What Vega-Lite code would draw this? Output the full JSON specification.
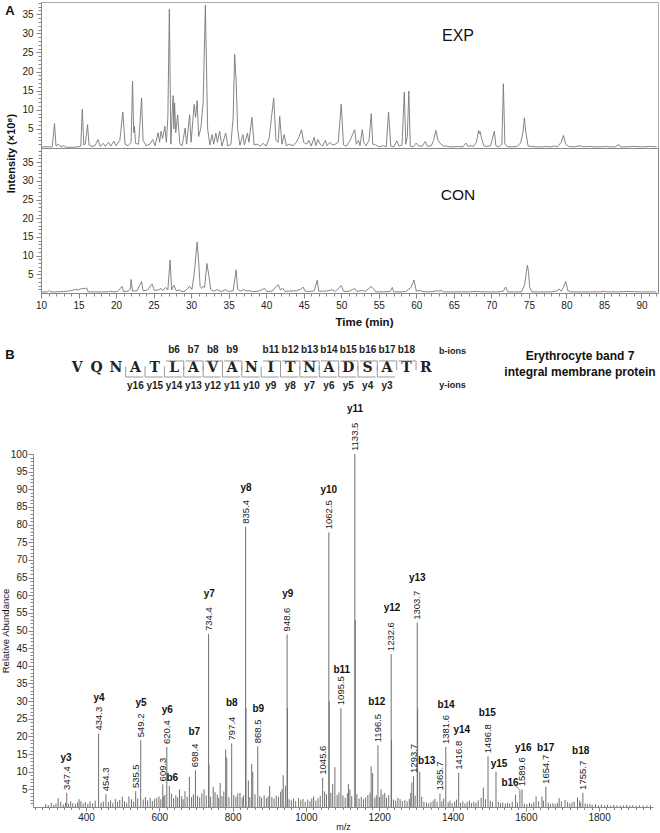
{
  "$schema": "https://vega.github.io/schema/vega-lite/v6.json",
  "padding": {"left": 0, "top": 1, "right": 0, "bottom": 0},
  "bounds": "flush",
  "spacing": 0,
  "background": "white",
  "config": {
    "font": "Liberation Sans",
    "view": {"stroke": null},
    "axis": {"labelFont": "Liberation Sans", "titleFont": "Liberation Sans", "labelColor": "#222", "titleColor": "#111", "domainColor": "#888", "tickColor": "#888", "grid": false, "labelFlush": false, "labelOverlap": false}
  },
  "datasets": {
    "exp": [
      {"t":10.0,"i":0.3},{"t":11.5,"i":0.3},{"t":11.8,"i":6.4},{"t":12.0,"i":0.5},{"t":12.3,"i":1.0},{"t":12.6,"i":0.3},{"t":13.0,"i":0.6},{"t":13.3,"i":0.2},{"t":14.0,"i":0.2},{"t":15.0,"i":0.3},{"t":15.3,"i":0.5},{"t":15.5,"i":10.1},{"t":15.7,"i":0.8},{"t":15.9,"i":1.0},{"t":16.2,"i":6.1},{"t":16.4,"i":0.8},{"t":16.8,"i":0.4},{"t":17.2,"i":0.6},{"t":17.6,"i":2.2},{"t":17.9,"i":0.4},{"t":18.3,"i":1.2},{"t":18.6,"i":0.4},{"t":19.0,"i":1.5},{"t":19.3,"i":0.5},{"t":19.7,"i":1.8},{"t":20.0,"i":0.6},{"t":20.5,"i":2.0},{"t":20.9,"i":9.4},{"t":21.2,"i":1.0},{"t":21.6,"i":0.6},{"t":22.0,"i":1.5},{"t":22.2,"i":17.5},{"t":22.35,"i":4.0},{"t":22.45,"i":5.7},{"t":22.6,"i":1.2},{"t":23.0,"i":1.0},{"t":23.4,"i":13.1},{"t":23.6,"i":2.0},{"t":24.0,"i":0.6},{"t":24.5,"i":1.0},{"t":24.9,"i":2.2},{"t":25.2,"i":0.6},{"t":25.6,"i":4.0},{"t":25.8,"i":1.5},{"t":26.0,"i":4.4},{"t":26.2,"i":2.5},{"t":26.5,"i":5.7},{"t":26.7,"i":1.5},{"t":26.9,"i":8.0},{"t":27.1,"i":36.3},{"t":27.3,"i":1.0},{"t":27.45,"i":8.0},{"t":27.6,"i":13.7},{"t":27.7,"i":5.0},{"t":27.8,"i":11.8},{"t":27.95,"i":4.0},{"t":28.2,"i":8.7},{"t":28.5,"i":1.0},{"t":28.8,"i":0.6},{"t":29.2,"i":5.2},{"t":29.4,"i":1.0},{"t":29.8,"i":8.7},{"t":30.0,"i":1.5},{"t":30.4,"i":11.4},{"t":30.6,"i":8.0},{"t":30.8,"i":12.4},{"t":31.0,"i":3.0},{"t":31.3,"i":5.2},{"t":31.6,"i":12.0},{"t":31.9,"i":37.4},{"t":32.2,"i":5.0},{"t":32.5,"i":0.8},{"t":32.8,"i":3.5},{"t":33.0,"i":1.0},{"t":33.3,"i":3.9},{"t":33.5,"i":1.5},{"t":33.8,"i":4.4},{"t":34.1,"i":0.5},{"t":34.6,"i":3.9},{"t":34.9,"i":0.5},{"t":35.3,"i":1.0},{"t":35.6,"i":7.9},{"t":35.8,"i":24.5},{"t":36.0,"i":17.5},{"t":36.2,"i":4.8},{"t":36.5,"i":0.7},{"t":36.9,"i":3.5},{"t":37.1,"i":0.8},{"t":37.5,"i":3.9},{"t":37.7,"i":1.5},{"t":38.1,"i":8.0},{"t":38.4,"i":0.8},{"t":38.8,"i":1.0},{"t":39.2,"i":0.5},{"t":39.6,"i":1.2},{"t":40.0,"i":0.5},{"t":40.4,"i":2.6},{"t":40.7,"i":7.9},{"t":41.0,"i":13.1},{"t":41.3,"i":2.0},{"t":41.6,"i":1.5},{"t":41.8,"i":8.3},{"t":42.1,"i":1.0},{"t":42.4,"i":3.5},{"t":42.7,"i":0.6},{"t":43.1,"i":1.0},{"t":43.6,"i":0.6},{"t":44.0,"i":1.5},{"t":44.4,"i":3.0},{"t":44.7,"i":4.8},{"t":45.0,"i":1.5},{"t":45.4,"i":1.0},{"t":45.7,"i":2.0},{"t":46.0,"i":0.5},{"t":46.4,"i":2.8},{"t":46.6,"i":0.6},{"t":46.9,"i":2.2},{"t":47.2,"i":1.0},{"t":47.5,"i":0.5},{"t":47.9,"i":2.0},{"t":48.1,"i":0.6},{"t":48.5,"i":1.5},{"t":48.8,"i":0.8},{"t":49.2,"i":1.0},{"t":49.6,"i":1.5},{"t":50.0,"i":11.5},{"t":50.3,"i":0.8},{"t":50.7,"i":0.5},{"t":51.0,"i":1.5},{"t":51.3,"i":2.5},{"t":51.5,"i":3.5},{"t":51.8,"i":4.8},{"t":52.0,"i":1.0},{"t":52.3,"i":2.0},{"t":52.5,"i":0.6},{"t":52.8,"i":4.8},{"t":53.0,"i":1.5},{"t":53.3,"i":0.6},{"t":53.7,"i":2.0},{"t":54.0,"i":9.0},{"t":54.2,"i":1.0},{"t":54.6,"i":0.8},{"t":55.0,"i":0.3},{"t":55.6,"i":0.6},{"t":56.0,"i":0.3},{"t":56.3,"i":9.4},{"t":56.6,"i":0.5},{"t":57.0,"i":0.3},{"t":57.4,"i":1.9},{"t":57.7,"i":0.5},{"t":58.1,"i":0.8},{"t":58.4,"i":14.6},{"t":58.6,"i":1.0},{"t":58.8,"i":3.0},{"t":59.0,"i":14.9},{"t":59.2,"i":0.5},{"t":59.6,"i":0.3},{"t":60.0,"i":1.3},{"t":60.3,"i":0.5},{"t":60.8,"i":0.5},{"t":61.2,"i":1.7},{"t":61.5,"i":0.4},{"t":62.0,"i":0.6},{"t":62.3,"i":2.0},{"t":62.6,"i":4.6},{"t":62.9,"i":2.0},{"t":63.2,"i":1.2},{"t":63.6,"i":0.5},{"t":64.0,"i":0.5},{"t":64.5,"i":0.3},{"t":65.0,"i":0.3},{"t":65.5,"i":0.4},{"t":66.2,"i":0.3},{"t":66.6,"i":1.3},{"t":66.9,"i":0.4},{"t":67.3,"i":0.6},{"t":67.6,"i":0.4},{"t":68.0,"i":1.5},{"t":68.3,"i":4.6},{"t":68.4,"i":3.8},{"t":68.5,"i":4.3},{"t":68.7,"i":2.5},{"t":69.0,"i":0.6},{"t":69.4,"i":0.4},{"t":69.9,"i":0.6},{"t":70.4,"i":4.4},{"t":70.6,"i":0.6},{"t":71.0,"i":0.3},{"t":71.4,"i":1.0},{"t":71.6,"i":16.8},{"t":71.8,"i":1.0},{"t":72.2,"i":0.3},{"t":72.8,"i":0.3},{"t":73.4,"i":0.4},{"t":73.9,"i":1.3},{"t":74.2,"i":4.0},{"t":74.4,"i":7.9},{"t":74.6,"i":4.0},{"t":74.9,"i":0.5},{"t":75.4,"i":0.4},{"t":76.0,"i":0.3},{"t":76.7,"i":0.3},{"t":77.2,"i":0.4},{"t":77.8,"i":0.3},{"t":78.4,"i":0.5},{"t":78.8,"i":0.3},{"t":79.3,"i":1.5},{"t":79.6,"i":3.3},{"t":79.9,"i":1.0},{"t":80.3,"i":0.4},{"t":81.0,"i":0.3},{"t":81.8,"i":0.6},{"t":82.3,"i":0.3},{"t":83.0,"i":0.4},{"t":83.8,"i":0.3},{"t":84.5,"i":0.3},{"t":85.2,"i":0.4},{"t":85.8,"i":0.3},{"t":86.5,"i":0.3},{"t":87.0,"i":0.9},{"t":87.2,"i":0.3},{"t":88.0,"i":0.3},{"t":89.0,"i":0.4},{"t":90.0,"i":0.3},{"t":91.2,"i":0.4},{"t":92.0,"i":0.3}
    ],
    "con": [
      {"t":10.0,"i":0.3},{"t":10.9,"i":0.3},{"t":11.1,"i":0.7},{"t":11.3,"i":0.3},{"t":12.0,"i":0.3},{"t":13.0,"i":0.4},{"t":14.0,"i":0.6},{"t":14.7,"i":1.0},{"t":15.0,"i":0.8},{"t":15.3,"i":1.1},{"t":15.7,"i":1.2},{"t":16.1,"i":1.3},{"t":16.3,"i":0.3},{"t":17.0,"i":0.3},{"t":18.0,"i":0.3},{"t":19.0,"i":0.3},{"t":19.3,"i":0.5},{"t":19.6,"i":0.3},{"t":20.2,"i":0.4},{"t":20.8,"i":1.8},{"t":21.0,"i":0.4},{"t":21.6,"i":0.5},{"t":21.9,"i":1.0},{"t":22.0,"i":3.6},{"t":22.2,"i":0.5},{"t":22.8,"i":0.6},{"t":23.4,"i":3.1},{"t":23.6,"i":0.6},{"t":24.2,"i":0.8},{"t":24.8,"i":2.4},{"t":25.1,"i":0.7},{"t":25.6,"i":0.8},{"t":26.0,"i":1.2},{"t":26.2,"i":0.6},{"t":26.6,"i":1.5},{"t":26.9,"i":0.8},{"t":27.2,"i":8.8},{"t":27.4,"i":0.8},{"t":27.7,"i":2.1},{"t":28.0,"i":0.6},{"t":28.4,"i":0.8},{"t":28.8,"i":0.4},{"t":29.2,"i":0.5},{"t":29.8,"i":1.8},{"t":30.1,"i":0.9},{"t":30.4,"i":4.9},{"t":30.8,"i":13.6},{"t":31.0,"i":8.5},{"t":31.2,"i":1.8},{"t":31.4,"i":1.2},{"t":31.6,"i":1.8},{"t":31.8,"i":1.5},{"t":32.1,"i":7.9},{"t":32.4,"i":4.2},{"t":32.6,"i":1.0},{"t":33.0,"i":0.5},{"t":33.5,"i":0.9},{"t":34.0,"i":0.4},{"t":34.6,"i":0.9},{"t":35.0,"i":0.4},{"t":35.6,"i":0.6},{"t":36.0,"i":6.2},{"t":36.2,"i":1.0},{"t":36.6,"i":0.5},{"t":37.0,"i":0.9},{"t":37.3,"i":0.6},{"t":37.8,"i":0.6},{"t":38.2,"i":0.4},{"t":39.0,"i":0.5},{"t":39.8,"i":1.2},{"t":40.1,"i":0.4},{"t":40.8,"i":0.5},{"t":41.2,"i":1.5},{"t":41.6,"i":2.2},{"t":41.9,"i":0.8},{"t":42.2,"i":1.3},{"t":42.5,"i":0.4},{"t":43.0,"i":0.5},{"t":44.0,"i":0.6},{"t":44.6,"i":1.0},{"t":44.9,"i":1.6},{"t":45.2,"i":0.5},{"t":45.8,"i":0.4},{"t":46.4,"i":0.6},{"t":46.8,"i":3.4},{"t":47.0,"i":0.5},{"t":47.6,"i":0.5},{"t":48.0,"i":0.5},{"t":48.8,"i":0.9},{"t":49.2,"i":0.4},{"t":50.0,"i":2.0},{"t":50.3,"i":0.5},{"t":51.0,"i":0.4},{"t":51.8,"i":1.2},{"t":52.1,"i":0.4},{"t":52.8,"i":0.7},{"t":53.2,"i":0.4},{"t":54.0,"i":1.8},{"t":54.3,"i":1.1},{"t":54.6,"i":0.3},{"t":55.5,"i":0.3},{"t":56.5,"i":0.4},{"t":56.8,"i":1.5},{"t":57.0,"i":0.3},{"t":58.0,"i":0.3},{"t":58.6,"i":0.4},{"t":59.3,"i":1.5},{"t":59.7,"i":3.5},{"t":60.0,"i":0.5},{"t":60.5,"i":0.7},{"t":60.8,"i":0.4},{"t":61.5,"i":0.3},{"t":62.3,"i":0.4},{"t":62.6,"i":0.6},{"t":63.0,"i":0.5},{"t":63.3,"i":0.7},{"t":63.6,"i":0.3},{"t":65.0,"i":0.3},{"t":67.0,"i":0.3},{"t":68.0,"i":0.4},{"t":69.0,"i":0.3},{"t":70.0,"i":0.3},{"t":71.0,"i":0.3},{"t":71.6,"i":0.5},{"t":71.9,"i":1.6},{"t":72.2,"i":0.3},{"t":73.0,"i":0.3},{"t":74.0,"i":0.3},{"t":74.4,"i":2.0},{"t":74.8,"i":7.4},{"t":74.95,"i":5.8},{"t":75.1,"i":1.5},{"t":75.4,"i":0.3},{"t":76.5,"i":0.3},{"t":78.0,"i":0.3},{"t":78.8,"i":0.6},{"t":79.0,"i":1.1},{"t":79.3,"i":0.5},{"t":79.6,"i":1.5},{"t":79.9,"i":3.1},{"t":80.2,"i":0.6},{"t":80.6,"i":0.3},{"t":82.0,"i":0.3},{"t":83.0,"i":0.3},{"t":84.6,"i":0.3},{"t":85.0,"i":0.5},{"t":85.3,"i":0.3},{"t":87.0,"i":0.3},{"t":88.0,"i":0.4},{"t":90.0,"i":0.3},{"t":91.0,"i":0.3},{"t":92.0,"i":0.3}
    ],
    "ms": [
      {"mz":347.4,"ab":4.0,"lab":"347.4"},{"mz":434.3,"ab":20.8,"lab":"434.3"},{"mz":454.3,"ab":3.6,"lab":"454.3"},{"mz":535.5,"ab":4.5,"lab":"535.5"},{"mz":549.2,"ab":18.9,"lab":"549.2"},{"mz":609.3,"ab":6.4,"lab":"609.3"},{"mz":620.4,"ab":17.0,"lab":"620.4"},{"mz":627.3,"ab":6.0},{"mz":698.4,"ab":10.4,"lab":"698.4"},{"mz":734.4,"ab":49.0,"lab":"734.4"},{"mz":797.4,"ab":18.0,"lab":"797.4"},{"mz":835.4,"ab":79.4,"lab":"835.4"},{"mz":868.5,"ab":17.2,"lab":"868.5"},{"mz":948.6,"ab":48.9,"lab":"948.6"},{"mz":1045.6,"ab":8.3,"lab":"1045.6"},{"mz":1062.5,"ab":77.8,"lab":"1062.5"},{"mz":1095.5,"ab":28.0,"lab":"1095.5"},{"mz":1133.5,"ab":100,"lab":"1133.5"},{"mz":1196.5,"ab":17.5,"lab":"1196.5"},{"mz":1232.6,"ab":43.3,"lab":"1232.6"},{"mz":1293.7,"ab":8.8,"lab":"1293.7"},{"mz":1303.7,"ab":52.2,"lab":"1303.7"},{"mz":1310.6,"ab":10.0},{"mz":1365.7,"ab":3.8,"lab":"1365.7"},{"mz":1381.6,"ab":17.0,"lab":"1381.6"},{"mz":1416.8,"ab":9.7,"lab":"1416.8"},{"mz":1496.8,"ab":14.4,"lab":"1496.8"},{"mz":1518.6,"ab":10.0},{"mz":1583.8,"ab":4.8},{"mz":1589.6,"ab":5.0,"lab":"1589.6"},{"mz":1654.7,"ab":5.7,"lab":"1654.7"},{"mz":1755.7,"ab":4.0,"lab":"1755.7"},
      {"mz":735.4,"ab":12},{"mz":836.4,"ab":28},{"mz":949.6,"ab":28},{"mz":1063.5,"ab":30},{"mz":1134.5,"ab":53},{"mz":1233.6,"ab":19},{"mz":1304.7,"ab":28},
      {"mz":324,"ab":2.5},{"mz":381,"ab":2.2},{"mz":499,"ab":2.9},{"mz":517,"ab":3.0},{"mz":599,"ab":3.0},{"mz":612,"ab":3.0},{"mz":655,"ab":5.0},{"mz":670,"ab":4.5},{"mz":682,"ab":8.5},{"mz":722,"ab":5.0},{"mz":747,"ab":5.7},{"mz":766,"ab":6.8},{"mz":781,"ab":16.3},{"mz":784,"ab":14.0},{"mz":820,"ab":4.0},{"mz":843,"ab":7.5},{"mz":852,"ab":12.2},{"mz":855,"ab":10},{"mz":901,"ab":6},{"mz":938,"ab":9},{"mz":944,"ab":6},{"mz":980,"ab":2.5},{"mz":1021,"ab":3},{"mz":1079,"ab":11.3},{"mz":1120,"ab":5},{"mz":1182,"ab":9.6},{"mz":1205,"ab":5},{"mz":1215,"ab":4},{"mz":1289,"ab":7},{"mz":1484,"ab":5.5},{"mz":1572,"ab":3.5},{"mz":1628,"ab":3},{"mz":1644,"ab":3},{"mz":1691,"ab":2.5},{"mz":1707,"ab":2},{"mz":1741,"ab":2.7},
      {"mz":290,"ab":0.8},{"mz":297,"ab":0.5},{"mz":305,"ab":1.2},{"mz":312,"ab":0.6},{"mz":318,"ab":1.0},{"mz":331,"ab":1.5},{"mz":338,"ab":0.7},{"mz":344,"ab":1.2},{"mz":352,"ab":0.9},{"mz":358,"ab":1.6},{"mz":364,"ab":1.1},{"mz":371,"ab":0.8},{"mz":377,"ab":1.3},{"mz":386,"ab":1.7},{"mz":392,"ab":1.0},{"mz":398,"ab":1.4},{"mz":405,"ab":0.9},{"mz":411,"ab":1.6},{"mz":418,"ab":1.0},{"mz":425,"ab":1.8},{"mz":441,"ab":1.2},{"mz":447,"ab":1.6},{"mz":461,"ab":1.4},{"mz":467,"ab":1.9},{"mz":473,"ab":1.1},{"mz":480,"ab":2.3},{"mz":486,"ab":1.5},{"mz":492,"ab":2.0},{"mz":505,"ab":1.6},{"mz":511,"ab":1.2},{"mz":524,"ab":2.2},{"mz":530,"ab":1.5},{"mz":541,"ab":2.4},{"mz":556,"ab":2.1},{"mz":562,"ab":2.8},{"mz":568,"ab":1.9},{"mz":575,"ab":2.6},{"mz":581,"ab":1.7},{"mz":587,"ab":2.3},{"mz":593,"ab":2.6},{"mz":604,"ab":2.2},{"mz":615,"ab":3.4},{"mz":633,"ab":3.8},{"mz":639,"ab":2.5},{"mz":645,"ab":3.3},{"mz":650,"ab":2.7},{"mz":661,"ab":3.1},{"mz":665,"ab":2.2},{"mz":676,"ab":2.9},{"mz":688,"ab":2.8},{"mz":693,"ab":3.6},{"mz":704,"ab":3.2},{"mz":710,"ab":2.7},{"mz":716,"ab":3.9},{"mz":728,"ab":3.3},{"mz":740,"ab":2.9},{"mz":752,"ab":4.2},{"mz":758,"ab":3.5},{"mz":762,"ab":2.6},{"mz":771,"ab":3.1},{"mz":776,"ab":4.4},{"mz":790,"ab":2.8},{"mz":803,"ab":3.4},{"mz":809,"ab":2.9},{"mz":814,"ab":3.8},{"mz":826,"ab":2.7},{"mz":830,"ab":3.3},{"mz":847,"ab":2.8},{"mz":861,"ab":3.6},{"mz":874,"ab":3.1},{"mz":879,"ab":2.6},{"mz":886,"ab":3.3},{"mz":892,"ab":2.5},{"mz":897,"ab":3.0},{"mz":907,"ab":2.8},{"mz":913,"ab":2.4},{"mz":919,"ab":3.2},{"mz":925,"ab":2.9},{"mz":931,"ab":4.3},{"mz":935,"ab":5.0},{"mz":954,"ab":2.2},{"mz":960,"ab":1.9},{"mz":966,"ab":2.4},{"mz":972,"ab":1.7},{"mz":986,"ab":1.9},{"mz":992,"ab":2.3},{"mz":998,"ab":1.5},{"mz":1005,"ab":2.1},{"mz":1011,"ab":1.6},{"mz":1016,"ab":2.4},{"mz":1027,"ab":1.8},{"mz":1033,"ab":2.5},{"mz":1039,"ab":3.2},{"mz":1051,"ab":4.4},{"mz":1056,"ab":3.6},{"mz":1068,"ab":4.0},{"mz":1073,"ab":6.5},{"mz":1085,"ab":3.4},{"mz":1090,"ab":4.1},{"mz":1101,"ab":3.3},{"mz":1107,"ab":2.6},{"mz":1113,"ab":3.9},{"mz":1116,"ab":6.5},{"mz":1125,"ab":3.1},{"mz":1139,"ab":3.6},{"mz":1145,"ab":2.4},{"mz":1151,"ab":2.9},{"mz":1157,"ab":2.2},{"mz":1163,"ab":2.7},{"mz":1169,"ab":3.4},{"mz":1175,"ab":4.0},{"mz":1178,"ab":11.5},{"mz":1188,"ab":2.6},{"mz":1192,"ab":3.3},{"mz":1201,"ab":2.8},{"mz":1210,"ab":3.5},{"mz":1220,"ab":2.6},{"mz":1226,"ab":3.4},{"mz":1239,"ab":2.1},{"mz":1245,"ab":1.8},{"mz":1251,"ab":2.6},{"mz":1257,"ab":2.2},{"mz":1263,"ab":1.7},{"mz":1270,"ab":2.0},{"mz":1276,"ab":1.6},{"mz":1282,"ab":2.3},{"mz":1286,"ab":4.0},{"mz":1298,"ab":3.2},{"mz":1316,"ab":2.9},{"mz":1322,"ab":1.5},{"mz":1329,"ab":1.3},{"mz":1335,"ab":1.0},{"mz":1341,"ab":1.4},{"mz":1347,"ab":1.8},{"mz":1352,"ab":2.3},{"mz":1358,"ab":1.5},{"mz":1371,"ab":1.6},{"mz":1376,"ab":2.4},{"mz":1388,"ab":1.3},{"mz":1393,"ab":1.8},{"mz":1399,"ab":1.1},{"mz":1406,"ab":1.5},{"mz":1411,"ab":2.1},{"mz":1422,"ab":1.2},{"mz":1428,"ab":1.6},{"mz":1434,"ab":1.0},{"mz":1440,"ab":1.4},{"mz":1446,"ab":1.8},{"mz":1452,"ab":1.1},{"mz":1458,"ab":1.5},{"mz":1464,"ab":1.2},{"mz":1470,"ab":1.9},{"mz":1478,"ab":2.6},{"mz":1490,"ab":2.2},{"mz":1503,"ab":1.8},{"mz":1509,"ab":1.4},{"mz":1525,"ab":1.5},{"mz":1531,"ab":1.1},{"mz":1537,"ab":1.3},{"mz":1544,"ab":0.9},{"mz":1550,"ab":1.2},{"mz":1556,"ab":1.0},{"mz":1563,"ab":1.5},{"mz":1577,"ab":1.3},{"mz":1596,"ab":1.0},{"mz":1603,"ab":0.8},{"mz":1610,"ab":1.2},{"mz":1616,"ab":0.9},{"mz":1622,"ab":1.4},{"mz":1635,"ab":1.6},{"mz":1648,"ab":1.8},{"mz":1661,"ab":1.2},{"mz":1667,"ab":0.9},{"mz":1674,"ab":1.1},{"mz":1680,"ab":0.8},{"mz":1686,"ab":1.2},{"mz":1697,"ab":1.6},{"mz":1714,"ab":1.4},{"mz":1720,"ab":1.0},{"mz":1726,"ab":1.3},{"mz":1732,"ab":1.5},{"mz":1747,"ab":1.8},{"mz":1750,"ab":1.2},{"mz":1762,"ab":1.0},{"mz":1768,"ab":0.8},{"mz":1775,"ab":0.9},{"mz":1781,"ab":0.6},{"mz":1790,"ab":0.8},{"mz":1798,"ab":0.5},{"mz":1806,"ab":0.7},{"mz":1815,"ab":0.5},{"mz":1823,"ab":0.6},{"mz":1832,"ab":0.4},{"mz":1840,"ab":0.6},{"mz":1849,"ab":0.5},{"mz":1858,"ab":0.4},{"mz":1866,"ab":0.5},{"mz":1875,"ab":0.6},{"mz":1884,"ab":0.4},{"mz":1892,"ab":0.5},{"mz":1901,"ab":0.4},{"mz":1910,"ab":0.5},{"mz":1920,"ab":0.4},{"mz":1930,"ab":0.4},{"mz":1940,"ab":0.5}
    ],
    "ions": [
      {"ion":"y3","mz":345.4,"ab":14.0},{"ion":"y4","mz":435.5,"ab":30.8},{"ion":"y5","mz":550.1,"ab":29.4},{"ion":"y6","mz":621.8,"ab":27.4},{"ion":"b6","mz":635.5,"ab":8.3},{"ion":"b7","mz":695.5,"ab":21.3},{"ion":"b8","mz":797.5,"ab":29.5},{"ion":"b9","mz":870.1,"ab":27.7},{"ion":"y7","mz":736.4,"ab":60.4},{"ion":"y8","mz":836.6,"ab":90.3},{"ion":"y9","mz":950.3,"ab":60.4},{"ion":"y10","mz":1062.5,"ab":89.7},{"ion":"y11","mz":1133.9,"ab":112.7},{"ion":"y12","mz":1234.9,"ab":56.5},{"ion":"y13","mz":1304.0,"ab":65.0},{"ion":"b11","mz":1097.7,"ab":38.7},{"ion":"b12","mz":1193.2,"ab":29.8},{"ion":"b13","mz":1329.6,"ab":13.0},{"ion":"b14","mz":1382.3,"ab":28.9},{"ion":"y14","mz":1425.1,"ab":21.8},{"ion":"b15","mz":1494.9,"ab":26.7},{"ion":"y15","mz":1526.9,"ab":12.3},{"ion":"b16","mz":1556.9,"ab":6.9},{"ion":"y16","mz":1593.2,"ab":16.8},{"ion":"b17","mz":1654.3,"ab":16.8},{"ion":"b18","mz":1749.8,"ab":15.9}
    ],
    "seq": [
      {"pos":1,"aa":"V"},{"pos":2,"aa":"Q"},{"pos":3,"aa":"N"},{"pos":4,"aa":"A"},{"pos":5,"aa":"T"},{"pos":6,"aa":"L"},{"pos":7,"aa":"A"},{"pos":8,"aa":"V"},{"pos":9,"aa":"A"},{"pos":10,"aa":"N"},{"pos":11,"aa":"I"},{"pos":12,"aa":"T"},{"pos":13,"aa":"N"},{"pos":14,"aa":"A"},{"pos":15,"aa":"D"},{"pos":16,"aa":"S"},{"pos":17,"aa":"A"},{"pos":18,"aa":"T"},{"pos":19,"aa":"R"}
    ],
    "frag": [
      {"ion":"b6","type":"b","site":6},{"ion":"b7","type":"b","site":7},{"ion":"b8","type":"b","site":8},{"ion":"b9","type":"b","site":9},{"ion":"b11","type":"b","site":11},{"ion":"b12","type":"b","site":12},{"ion":"b13","type":"b","site":13},{"ion":"b14","type":"b","site":14},{"ion":"b15","type":"b","site":15},{"ion":"b16","type":"b","site":16},{"ion":"b17","type":"b","site":17},{"ion":"b18","type":"b","site":18},
      {"ion":"y16","type":"y","site":4},{"ion":"y15","type":"y","site":5},{"ion":"y14","type":"y","site":6},{"ion":"y13","type":"y","site":7},{"ion":"y12","type":"y","site":8},{"ion":"y11","type":"y","site":9},{"ion":"y10","type":"y","site":10},{"ion":"y9","type":"y","site":11},{"ion":"y8","type":"y","site":12},{"ion":"y7","type":"y","site":13},{"ion":"y6","type":"y","site":14},{"ion":"y5","type":"y","site":15},{"ion":"y4","type":"y","site":16},{"ion":"y3","type":"y","site":17}
    ]
  },
  "vconcat": [
    {
      "width": 617, "height": 146,
      "view": {"stroke": "#aaa", "strokeWidth": 1},
      "encoding": {
        "x": {"type": "quantitative", "scale": {"domain": [10, 92.2], "nice": false, "zero": false}, "axis": null},
        "y": {"type": "quantitative", "scale": {"domain": [0, 38.2], "nice": false, "zero": false},
          "axis": {"title": "Intensity (×10⁸)", "titleFontSize": 11, "titleFontWeight": "bold", "titleY": 151, "titlePadding": 5,
            "values": [1,2,3,4,5,6,7,8,9,10,11,12,13,14,15,16,17,18,19,20,21,22,23,24,25,26,27,28,29,30,31,32,33,34,35,36,37,38],
            "labelExpr": "datum.value % 5 === 0 ? datum.label : ''",
            "labelFontSize": {"condition": {"test": "datum.value % 5 === 0", "value": 10}, "value": 1},
            "tickSize": {"condition": {"test": "datum.value % 5 === 0", "value": 5}, "value": 3},
            "labelPadding": 3}}
      },
      "layer": [
        {
          "data": {"name": "exp"},
          "mark": {"type": "line", "color": "#777", "strokeWidth": 0.9},
          "encoding": {"x": {"field": "t"}, "y": {"field": "i"}}
        },
        {
          "data": {"values": [{"txt": "EXP"}]},
          "mark": {"type": "text", "fontSize": 16, "color": "#111"},
          "encoding": {"x": {"datum": 65.55}, "y": {"datum": 29.3}, "text": {"field": "txt"}}
        },
        {
          "data": {"values": [{"txt": "A"}]},
          "mark": {"type": "text", "fontSize": 13, "fontWeight": "bold", "color": "#111"},
          "encoding": {"x": {"datum": 5.87}, "y": {"datum": 35.86}, "text": {"field": "txt"}}
        }
      ]
    },
    {
      "width": 617, "height": 145,
      "view": {"stroke": "#888", "strokeWidth": 1},
      "encoding": {
        "x": {"type": "quantitative", "scale": {"domain": [10, 92.2], "nice": false, "zero": false},
          "axis": {"title": "Time (min)", "titleFontSize": 11.5, "titleFontWeight": "bold", "titleX": 323, "titlePadding": 6,
            "values": [10,11,12,13,14,15,16,17,18,19,20,21,22,23,24,25,26,27,28,29,30,31,32,33,34,35,36,37,38,39,40,41,42,43,44,45,46,47,48,49,50,51,52,53,54,55,56,57,58,59,60,61,62,63,64,65,66,67,68,69,70,71,72,73,74,75,76,77,78,79,80,81,82,83,84,85,86,87,88,89,90,91,92],
            "labelExpr": "datum.value % 5 === 0 ? datum.label : ''",
            "tickSize": {"condition": {"test": "datum.value % 5 === 0", "value": 5}, "value": 3},
            "labelFontSize": 10, "labelPadding": 2}},
        "y": {"type": "quantitative", "scale": {"domain": [0, 38.8], "nice": false, "zero": false},
          "axis": {"title": null,
            "values": [1,2,3,4,5,6,7,8,9,10,11,12,13,14,15,16,17,18,19,20,21,22,23,24,25,26,27,28,29,30,31,32,33,34,35,36,37,38],
            "labelExpr": "datum.value % 5 === 0 ? datum.label : ''",
            "labelFontSize": {"condition": {"test": "datum.value % 5 === 0", "value": 10}, "value": 1},
            "tickSize": {"condition": {"test": "datum.value % 5 === 0", "value": 5}, "value": 3},
            "labelPadding": 3}}
      },
      "layer": [
        {
          "data": {"name": "con"},
          "mark": {"type": "line", "color": "#777", "strokeWidth": 0.9},
          "encoding": {"x": {"field": "t"}, "y": {"field": "i"}}
        },
        {
          "data": {"values": [{"txt": "CON"}]},
          "mark": {"type": "text", "fontSize": 15.5, "color": "#111"},
          "encoding": {"x": {"datum": 65.55}, "y": {"datum": 26.3}, "text": {"field": "txt"}}
        }
      ]
    },
    {
      "width": 617, "height": 161,
      "encoding": {
        "x": {"type": "quantitative", "scale": {"domain": [-0.875, 31.0], "nice": false, "zero": false}, "axis": null},
        "y": {"type": "quantitative", "scale": {"domain": [-2.123, 6.699], "nice": false, "zero": false, "reverse": true}, "axis": null}
      },
      "layer": [
        {
          "data": {"name": "seq"},
          "mark": {"type": "text", "font": "DejaVu Serif", "fontSize": 14, "fontWeight": "bold", "color": "#222"},
          "encoding": {"x": {"field": "pos"}, "y": {"datum": 2}, "text": {"field": "aa"}}
        },
        {
          "data": {"name": "frag"},
          "transform": [{"filter": "datum.type === 'b'"}],
          "mark": {"type": "text", "fontSize": 10, "fontWeight": "bold", "color": "#222"},
          "encoding": {"x": {"field": "site"}, "y": {"datum": 1}, "text": {"field": "ion"}}
        },
        {
          "data": {"name": "frag"},
          "transform": [{"filter": "datum.type === 'y'"}],
          "mark": {"type": "text", "fontSize": 10, "fontWeight": "bold", "color": "#222"},
          "encoding": {"x": {"field": "site"}, "y": {"datum": 3}, "text": {"field": "ion"}}
        },
        {
          "data": {"name": "frag"},
          "transform": [{"filter": "datum.type === 'b'"}],
          "mark": {"type": "rule", "color": "#999", "strokeWidth": 1, "xOffset": 9.68},
          "encoding": {"x": {"field": "site"}, "y": {"datum": 1.6}, "y2": {"datum": 2.1}}
        },
        {
          "data": {"name": "frag"},
          "transform": [{"filter": "datum.type === 'b'"}],
          "mark": {"type": "rule", "color": "#999", "strokeWidth": 1, "xOffset": -8, "x2Offset": 9.68},
          "encoding": {"x": {"field": "site"}, "x2": {"field": "site"}, "y": {"datum": 1.6}}
        },
        {
          "data": {"name": "frag"},
          "transform": [{"filter": "datum.type === 'y'"}],
          "mark": {"type": "rule", "color": "#999", "strokeWidth": 1, "xOffset": -9.68},
          "encoding": {"x": {"field": "site"}, "y": {"datum": 1.9}, "y2": {"datum": 2.48}}
        },
        {
          "data": {"name": "frag"},
          "transform": [{"filter": "datum.type === 'y'"}],
          "mark": {"type": "rule", "color": "#999", "strokeWidth": 1, "xOffset": -9.68, "x2Offset": 8},
          "encoding": {"x": {"field": "site"}, "x2": {"field": "site"}, "y": {"datum": 2.48}}
        },
        {
          "data": {"values": [{"txt": "B"}]},
          "mark": {"type": "text", "fontSize": 13, "fontWeight": "bold", "color": "#111"},
          "encoding": {"x": {"datum": -2.48}, "y": {"datum": 1.27}, "text": {"field": "txt"}}
        },
        {
          "data": {"values": [{"txt": "b-ions", "row": 1.05}, {"txt": "y-ions", "row": 2.93}]},
          "mark": {"type": "text", "fontSize": 9, "fontWeight": "bold", "color": "#222"},
          "encoding": {"x": {"datum": 20.38}, "y": {"field": "row"}, "text": {"field": "txt"}}
        },
        {
          "data": {"values": [{"txt": "Erythrocyte band 7", "row": 1.33}, {"txt": "integral membrane protein", "row": 2.2}]},
          "mark": {"type": "text", "fontSize": 12, "fontWeight": "bold", "color": "#111"},
          "encoding": {"x": {"datum": 26.97}, "y": {"field": "row"}, "text": {"field": "txt"}}
        }
      ]
    },
    {
      "width": 612, "height": 353,
      "encoding": {
        "x": {"type": "quantitative", "scale": {"domain": [255.3, 1947], "range": [-8, 612], "nice": false, "zero": false},
          "axis": {"title": "m/z", "titleFontSize": 9, "titleFontWeight": "normal", "titlePadding": 0,
            "values": [260,280,300,320,340,360,380,400,420,440,460,480,500,520,540,560,580,600,620,640,660,680,700,720,740,760,780,800,820,840,860,880,900,920,940,960,980,1000,1020,1040,1060,1080,1100,1120,1140,1160,1180,1200,1220,1240,1260,1280,1300,1320,1340,1360,1380,1400,1420,1440,1460,1480,1500,1520,1540,1560,1580,1600,1620,1640,1660,1680,1700,1720,1740,1760,1780,1800,1820,1840,1860,1880,1900,1920,1940],
            "labelExpr": "datum.value % 200 === 0 ? datum.label : ''",
            "format": "d",
            "tickSize": {"condition": {"test": "datum.value % 200 === 0", "value": 4}, "value": 2.5},
            "labelFontSize": 10, "labelPadding": 1}},
        "y": {"type": "quantitative", "scale": {"domain": [0, 100], "nice": false},
          "axis": {"title": "Relative Abundance", "titleFontSize": 9.5, "titleFontWeight": "normal", "titlePadding": 0, "offset": 8,
            "values": [1,2,3,4,5,6,7,8,9,10,11,12,13,14,15,16,17,18,19,20,21,22,23,24,25,26,27,28,29,30,31,32,33,34,35,36,37,38,39,40,41,42,43,44,45,46,47,48,49,50,51,52,53,54,55,56,57,58,59,60,61,62,63,64,65,66,67,68,69,70,71,72,73,74,75,76,77,78,79,80,81,82,83,84,85,86,87,88,89,90,91,92,93,94,95,96,97,98,99,100],
            "labelExpr": "datum.value % 5 === 0 ? datum.label : ''",
            "tickSize": {"condition": {"test": "datum.value % 5 === 0", "value": 5}, "value": 3},
            "labelFontSize": 10, "labelPadding": 1}}
      },
      "layer": [
        {
          "data": {"name": "ms"},
          "mark": {"type": "rule", "color": "#707070", "strokeWidth": 1},
          "encoding": {"x": {"field": "mz"}, "y": {"field": "ab"}, "y2": {"datum": 0}}
        },
        {
          "data": {"name": "ms"},
          "transform": [{"filter": "datum.lab != null"}],
          "mark": {"type": "text", "angle": 270, "align": "left", "baseline": "middle", "dx": 3, "fontSize": 9.5, "color": "#222"},
          "encoding": {"x": {"field": "mz"}, "y": {"field": "ab"}, "text": {"field": "lab"}}
        },
        {
          "data": {"name": "ions"},
          "mark": {"type": "text", "fontSize": 10, "fontWeight": "bold", "color": "#111"},
          "encoding": {"x": {"field": "mz"}, "y": {"field": "ab"}, "text": {"field": "ion"}}
        },
        {
          "data": {"values": [{"x1": 1568, "y1": 6.3, "x2": 1583, "y2": 4.9}]},
          "mark": {"type": "rule", "color": "#666", "strokeWidth": 0.8},
          "encoding": {"x": {"field": "x1"}, "y": {"field": "y1"}, "x2": {"field": "x2"}, "y2": {"field": "y2"}}
        }
      ]
    }
  ]
}
